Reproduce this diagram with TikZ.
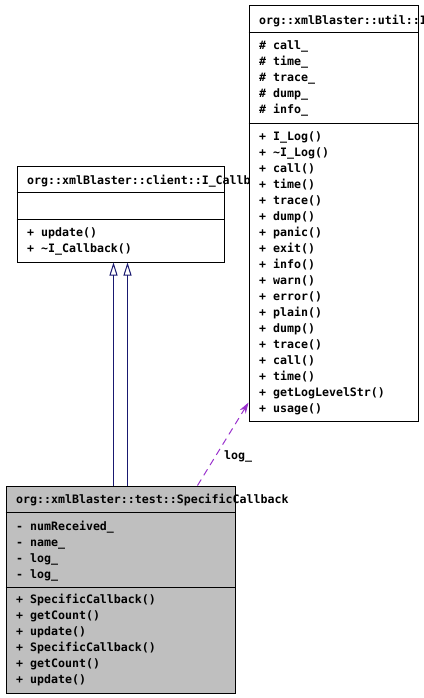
\documentclass[tikz,border=0pt]{standalone}
\usepackage{fontspec}
\setmonofont{DejaVu Sans Mono}
\usetikzlibrary{arrows.meta}
\definecolor{edgeblue}{RGB}{25,25,112}
\definecolor{edgepurple}{RGB}{154,50,205}
\definecolor{classgray}{RGB}{191,191,191}
\tikzset{
  classbox/.style={draw,line width=1bp,anchor=north west,inner sep=0pt,fill=white},
  member/.style={anchor=base west,inner sep=0pt,font=\ttfamily\bfseries\fontsize{11.6bp}{16bp}\selectfont},
  inherit/.style={draw=edgeblue,line width=1bp,-{Triangle[open,width=8bp,length=13bp]}},
  uses/.style={draw=edgepurple,line width=1bp,dash pattern=on 7bp off 5bp,-{Stealth[length=11bp,width=7bp]}}
}
\begin{document}
\begin{tikzpicture}[x=1bp,y=-1bp]
\useasboundingbox (0,0) rectangle (423,698);
\node[classbox,minimum width=207bp,minimum height=96bp] (ic) at (16.5,165.5) {};
\draw[line width=1bp] ([yshift=-27bp]ic.north west)--([yshift=-27bp]ic.north east);
\draw[line width=1bp] ([yshift=-54bp]ic.north west)--([yshift=-54bp]ic.north east);
\node[member] (ictitle) at (27,184) {org::xmlBlaster::client::I\_Callback};
\foreach \t [count=\i] in {update(),\textasciitilde I\_Callback()}
  \node[member] (icm\i) at (27,{220+16*\i}) {+ \t};

\node[classbox,minimum width=169bp,minimum height=415bp] (log) at (248.5,5.5) {};
\draw[line width=1bp] ([yshift=-27bp]log.north west)--([yshift=-27bp]log.north east);
\draw[line width=1bp] ([yshift=-118bp]log.north west)--([yshift=-118bp]log.north east);
\node[member] (logtitle) at (259,24.5) {org::xmlBlaster::util::I\_Log};
\foreach \t [count=\i] in {call\_,time\_,trace\_,dump\_,info\_}
  \node[member] (loga\i) at (259,{34+16*\i}) {\# \t};
\foreach \t [count=\i] in {I\_Log(),\textasciitilde I\_Log(),call(),time(),trace(),dump(),panic(),exit(),info(),warn(),error(),plain(),dump(),trace(),call(),time(),getLogLevelStr(),usage()}
  \node[member] (logm\i) at (259,{124+16*\i}) {+ \t};

\node[classbox,fill=classgray,minimum width=229bp,minimum height=207bp] (cb) at (5.5,485.5) {};
\draw[line width=1bp] ([yshift=-27bp]cb.north west)--([yshift=-27bp]cb.north east);
\draw[line width=1bp] ([yshift=-102bp]cb.north west)--([yshift=-102bp]cb.north east);
\node[member] (cbtitle) at (16,503.5) {org::xmlBlaster::test::SpecificCallback};
\foreach \t [count=\i] in {numReceived\_,name\_,log\_,log\_}
  \node[member] (cba\i) at (16,{514+16*\i}) {- \t};
\foreach \t [count=\i] in {SpecificCallback(),getCount(),update(),SpecificCallback(),getCount(),update()}
  \node[member] (cbm\i) at (16,{587+16*\i}) {+ \t};

\draw[inherit] ([xshift=108bp]cb.north west)--([xshift=108bp]cb.north west |- ic.south);
\draw[inherit] ([xshift=122bp]cb.north west)--([xshift=122bp]cb.north west |- ic.south);
\draw[uses] ([xshift=192bp]cb.north west)--([yshift=19bp]log.south west);
\node[member] (loglabel) at (224,459) {log\_};
\end{tikzpicture}
\end{document}
